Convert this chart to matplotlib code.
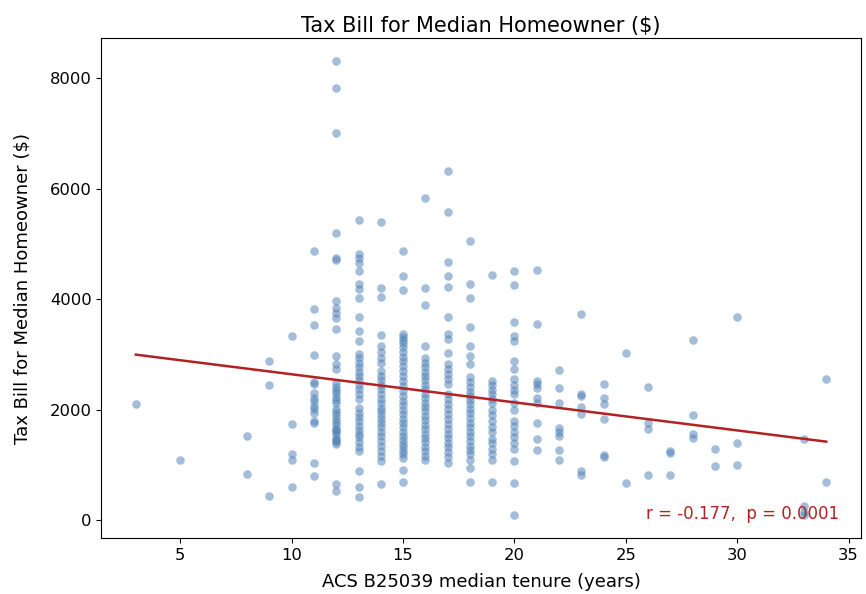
import numpy as np
import matplotlib
matplotlib.use("Agg")
import matplotlib.pyplot as plt

# median tenure (years) -> tax bills of the tracts in that bucket
tax_by_tenure = {
    3: [2100],
    5: [1100],
    8: [1520, 830],
    9: [2880, 2450, 450],
    10: [3330, 1740, 1200, 1100, 600],
    11: [4870, 3820, 3530, 2990, 2500, 2460, 2300, 2210, 2150, 2060, 2010,
         1940, 1800, 1760, 1030, 800],
    12: [8310, 7810, 7010, 5200, 4750, 4710, 3970, 3840, 3750, 3660, 3460,
         2970, 2830, 2740, 2480, 2420, 2360, 2300, 2240, 2180, 2120, 2010,
         1960, 1900, 1840, 1780, 1720, 1660, 1640, 1600, 1540, 1480, 1450,
         1420, 1380, 650, 530],
    13: [5430, 4820, 4740, 4660, 4510, 4280, 4180, 4020, 3680, 3420, 3240,
         3010, 2930, 2850, 2770, 2690, 2610, 2530, 2450, 2370, 2290, 2190,
         2030, 1950, 1870, 1790, 1710, 1640, 1570, 1500, 1420, 1330, 1250,
         890, 600, 420],
    14: [5400, 4200, 4040, 3350, 3150, 3050, 2940, 2840, 2700, 2610, 2530,
         2450, 2370, 2280, 2200, 2120, 2040, 1970, 1900, 1830, 1760, 1680,
         1600, 1520, 1430, 1340, 1250, 1160, 1070, 650],
    15: [4870, 4420, 4170, 3370, 3320, 3260, 3200, 3130, 3050, 2960, 2880,
         2800, 2700, 2610, 2520, 2430, 2340, 2250, 2160, 2080, 2000, 1920,
         1840, 1760, 1680, 1600, 1530, 1460, 1390, 1320, 1260, 1200, 1120,
         920, 700],
    16: [5830, 4200, 3900, 3150, 2930, 2850, 2770, 2690, 2610, 2530, 2450,
         2370, 2290, 2210, 2130, 2050, 1970, 1890, 1810, 1730, 1650, 1570,
         1490, 1410, 1330, 1250, 1160, 1100],
    17: [6320, 5580, 4670, 4420, 4220, 3680, 3370, 3280, 3030, 2830, 2740,
         2650, 2560, 2460, 2280, 2190, 2100, 2010, 1920, 1830, 1750, 1660,
         1570, 1490, 1400, 1320, 1230, 1150, 1030],
    18: [5050, 4280, 4020, 3500, 3150, 2970, 2830, 2600, 2500, 2420, 2330,
         2250, 2170, 2100, 2020, 1940, 1850, 1760, 1680, 1600, 1520, 1430,
         1350, 1280, 1200, 1100, 940, 700],
    19: [4440, 2520, 2440, 2360, 2280, 2200, 2120, 2000, 1900, 1800, 1680,
         1600, 1480, 1400, 1300, 1200, 1100, 700],
    20: [4510, 4260, 3590, 3330, 3240, 2880, 2740, 2550, 2450, 2350, 2280,
         2120, 2000, 1790, 1700, 1600, 1500, 1400, 1300, 1070, 670, 90],
    21: [4530, 3550, 2520, 2460, 2390, 2210, 2120, 1760, 1470, 1270],
    22: [2720, 2390, 2120, 1670, 1590, 1520, 1270, 1100],
    23: [3730, 2280, 2250, 2050, 1920, 890, 820],
    24: [2460, 2210, 2100, 1830, 1180, 1140],
    25: [3030, 670],
    26: [2420, 1760, 1650, 820],
    27: [1250, 1210, 820],
    28: [3260, 1900, 1560, 1490],
    29: [1300, 980],
    30: [3680, 1400, 1010],
    33: [1470, 260, 150, 90],
    34: [2550, 700],
}
stats_label = "r = -0.177,  p = 0.0001"

tenure = np.array([k for k, v in tax_by_tenure.items() for _ in v], dtype=float)
tax = np.array([t for v in tax_by_tenure.values() for t in v], dtype=float)

fig = plt.figure(figsize=(8.66, 5.94), dpi=100)
ax = fig.add_axes([0.117, 0.094, 0.877, 0.842])

ax.scatter(tenure, tax, s=38, color="#4a7fb5", alpha=0.5, linewidths=0)

slope, icpt = np.polyfit(tenure, tax, 1)
xs = np.array([tenure.min(), tenure.max()])
ax.plot(xs, slope * xs + icpt, color="#b22222", lw=1.8)

ax.text(0.972, 0.03, stats_label, transform=ax.transAxes, ha="right",
        va="bottom", color="#b22222", fontsize=12)

ax.set_title("Tax Bill for Median Homeowner ($)", fontsize=15, pad=4)
ax.set_xlabel("ACS B25039 median tenure (years)", fontsize=13, labelpad=7)
ax.set_ylabel("Tax Bill for Median Homeowner ($)", fontsize=13, labelpad=13)
ax.tick_params(labelsize=11.8)
ax.set_yticks([0, 2000, 4000, 6000, 8000])

fig.savefig("out.png", dpi=100)
